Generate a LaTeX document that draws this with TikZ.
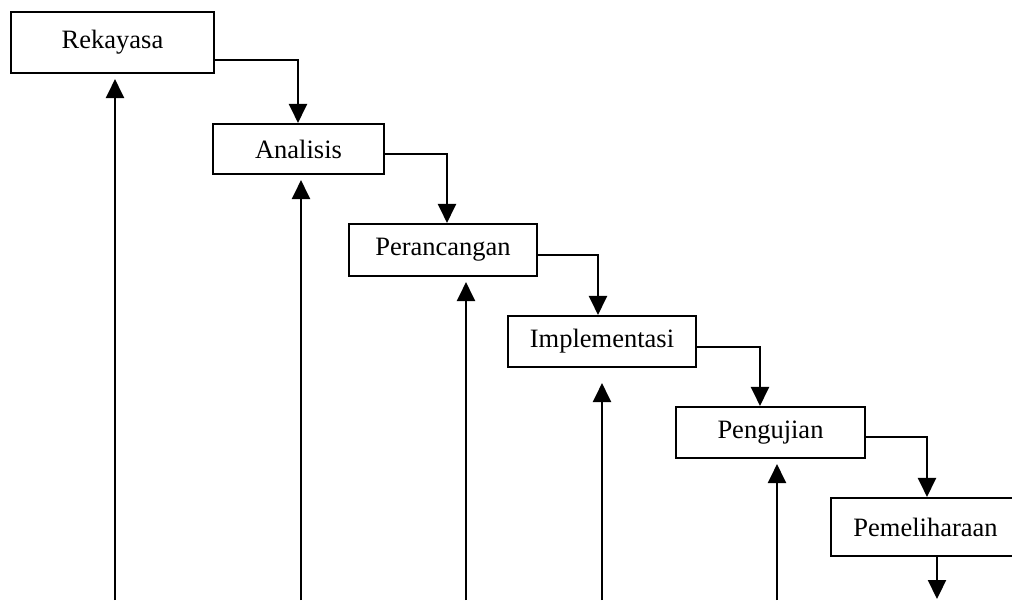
\documentclass[tikz,border=0pt]{standalone}
\usepackage{fontspec}
\setmainfont{Liberation Serif}
\usetikzlibrary{arrows.meta}
\begin{document}
\begin{tikzpicture}[x=1pt,y=-1pt,
  stage/.style={draw, line width=2.1pt, inner sep=0pt,
    font=\fontsize{26.5}{30}\selectfont},
  flow/.style={line width=2.2pt, -{Triangle[width=18pt,length=19pt]}}]
\clip (0,0) rectangle (1012,600);
\useasboundingbox (0,0) rectangle (1012,600);

% stages of the waterfall
\node[stage, minimum width=203pt, minimum height=61pt] (rek) at (112.5,42.5) {Rekayasa};
\node[stage, minimum width=171pt, minimum height=50pt] (ana) at (298.5,149) {Analisis};
\node[stage, minimum width=188pt, minimum height=52pt] (per) at (443,250) {Perancangan};
\node[stage, minimum width=188pt, minimum height=51pt] (imp) at (602,341.5) {Implementasi};
\node[stage, minimum width=189pt, minimum height=51pt] (pen) at (770.5,432.5) {Pengujian};
\node[stage, minimum width=189pt, minimum height=58pt] (pem) at (925.5,527) {Pemeliharaan};

% forward flow
\draw[flow] ([yshift=-17.5pt]rek.east) -| ([xshift=-0.5pt]ana.north);
\draw[flow] ([yshift=-5pt]ana.east) -| ([xshift=4pt]per.north);
\draw[flow] ([yshift=-5pt]per.east) -| ([xshift=-4pt]imp.north);
\draw[flow] ([yshift=-5.5pt]imp.east) -| ([xshift=-10.5pt]pen.north);
\draw[flow] ([yshift=-4.5pt]pen.east) -| ([xshift=1.5pt]pem.north);

\coordinate (pemout) at (937,599);
\draw[flow] (pemout |- pem.south) -- (pemout);

% feedback lines from below
\coordinate (f1) at (115,600);
\coordinate (f2) at (301,600);
\coordinate (f3) at (466,600);
\coordinate (f4) at (602,600);
\coordinate (f5) at (777,600);
\draw[flow, shorten >=5pt] (f1) -- (f1 |- rek.south);
\draw[flow, shorten >=5pt] (f2) -- (f2 |- ana.south);
\draw[flow, shorten >=5pt] (f3) -- (f3 |- per.south);
\draw[flow, shorten >=15pt] (f4) -- (f4 |- imp.south);
\draw[flow, shorten >=5pt] (f5) -- (f5 |- pen.south);
\end{tikzpicture}
\end{document}
